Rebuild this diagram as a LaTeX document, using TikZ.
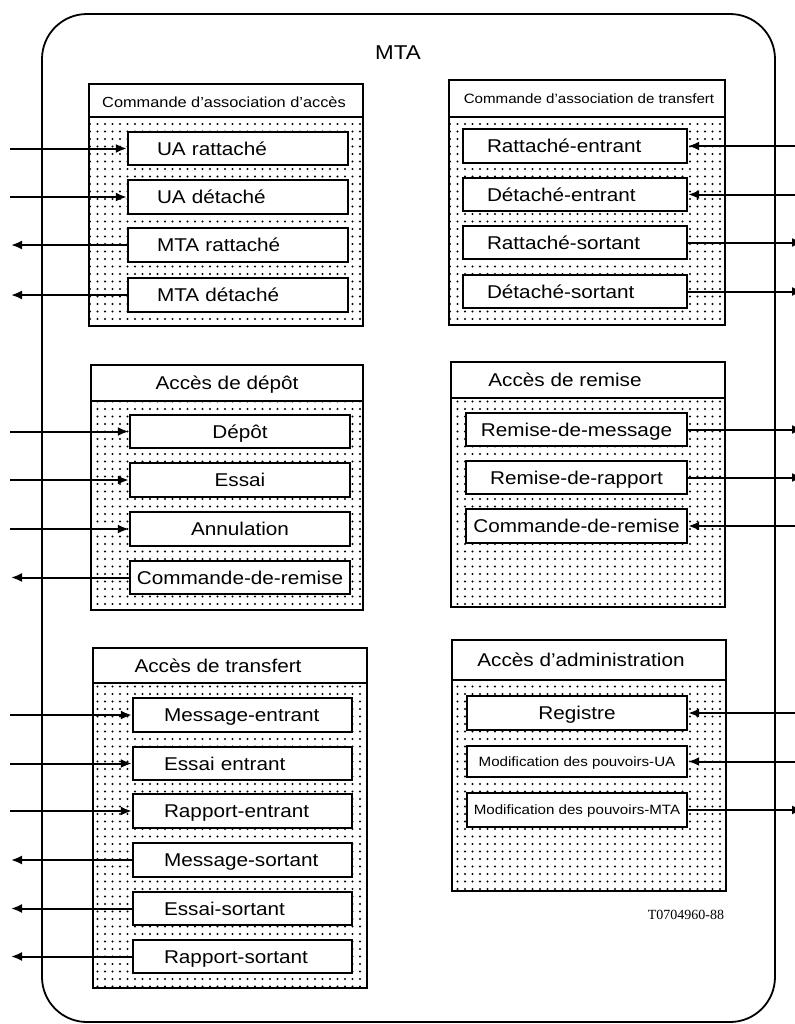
\documentclass[tikz,border=0pt]{standalone}
\usepackage{fontspec}
\setmainfont[FakeStretch=1.12]{Liberation Sans}
\newfontfamily\refserif{Liberation Serif}
\usetikzlibrary{arrows.meta,patterns.meta}

\begin{document}
\begin{tikzpicture}[x=0.5pt,y=-0.5pt,
  frame/.style={line width=0.9pt},
  gbox/.style={line width=1.3pt},
  stipple/.style={pattern={Dots[distance=3.75pt,radius=0.6pt]}},
  ibox/.style={draw,line width=1.2pt,fill=white,minimum height=16.75pt,
    inner ysep=0pt,font=\fontsize{9.25pt}{11pt}\selectfont,
    text height=6.6pt,text depth=0pt},
  smallbox/.style={ibox,font=\fontsize{6.75pt}{8pt}\selectfont,text height=4.8pt},
  titletext/.style={inner sep=0pt,font=\fontsize{9.25pt}{11pt}\selectfont,
    text height=6.6pt,text depth=0pt},
  g1l/.style={ibox,inner xsep=14.5pt,text width=81pt,align=left},
  g1r/.style={ibox,inner xsep=12pt,text width=88pt,align=left},
  g2l/.style={ibox,inner xsep=2pt,minimum width=110pt},
  g2r/.style={ibox,inner xsep=2pt,minimum width=110.5pt},
  g3l/.style={ibox,inner xsep=15.5pt,text width=78.5pt,align=left},
  g3r/.style={ibox,inner xsep=2pt,minimum width=110pt},
  g3rs/.style={smallbox,inner xsep=2pt,minimum width=110pt},
  conn/.style={line width=1pt,-{Latex[length=5.5pt,width=4.5pt]}}
]
\useasboundingbox (0,0) rectangle (795,1024);
\clip (0,0) rectangle (795,1024);

% free ends of the connectors
\coordinate (Lin) at (10,0);
\coordinate (Lout) at (11,0);
\coordinate (Rin) at (800,0);
\coordinate (Rout) at (803,0);

% MTA frame
\draw[frame,rounded corners=22.5pt] (42,14) rectangle (775,1022);
\node[inner sep=0pt,font=\fontsize{10pt}{12pt}\selectfont,text height=7.2pt,text depth=0pt] (mta) at (398,52) {MTA};

% ---------- Commande d'association d'accès ----------
\draw[gbox,stipple] (89,84) rectangle (363,326);
\draw[gbox,fill=white] (89,84) rectangle (363,117);
\node[titletext,font=\fontsize{7.3pt}{9pt}\selectfont,text height=5.2pt] (t1) at (224,102) {Commande d’association d’accès};
\node[g1l] (uar) at (238,148.5) {\mbox{UA rattaché}};
\node[g1l] (uad) at (238,197) {\mbox{UA détaché}};
\node[g1l] (mtar) at (238,245) {\mbox{MTA rattaché}};
\node[g1l] (mtad) at (238,295) {\mbox{MTA détaché}};
\draw[conn] (uar.west -| Lin) -- (uar.west);
\draw[conn] (uad.west -| Lin) -- (uad.west);
\draw[conn] (mtar.west) -- (mtar.west -| Lout);
\draw[conn] (mtad.west) -- (mtad.west -| Lout);

% ---------- Commande d'association de transfert ----------
\draw[gbox,stipple] (449,80) rectangle (725,325);
\draw[gbox,fill=white] (449,80) rectangle (725,117);
\node[titletext,font=\fontsize{6.75pt}{8pt}\selectfont,text height=4.8pt] (t2) at (589,99) {Commande d’association de transfert};
\node[g1r] (rate) at (575,146) {\mbox{Rattaché-entrant}};
\node[g1r] (dete) at (575,194.5) {\mbox{Détaché-entrant}};
\node[g1r] (rats) at (575,242.5) {\mbox{Rattaché-sortant}};
\node[g1r] (dets) at (575,291.5) {\mbox{Détaché-sortant}};
\draw[conn] (rate.east -| Rin) -- (rate.east);
\draw[conn] (dete.east -| Rin) -- (dete.east);
\draw[conn] (rats.east) -- (rats.east -| Rout);
\draw[conn] (dets.east) -- (dets.east -| Rout);

% ---------- Accès de dépôt ----------
\draw[gbox,stipple] (91,365) rectangle (363,610);
\draw[gbox,fill=white] (91,365) rectangle (363,401);
\node[titletext] (t3) at (227,383) {Accès de dépôt};
\node[g2l] (dep) at (240,431.5) {Dépôt};
\node[g2l] (ess) at (240,480) {Essai};
\node[g2l] (ann) at (240,529) {Annulation};
\node[g2l] (cdr1) at (240,577.5) {Commande-de-remise};
\draw[conn] (dep.west -| Lin) -- (dep.west);
\draw[conn] (ess.west -| Lin) -- (ess.west);
\draw[conn] (ann.west -| Lin) -- (ann.west);
\draw[conn] (cdr1.west) -- (cdr1.west -| Lout);

% ---------- Accès de remise ----------
\draw[gbox,stipple] (451,362) rectangle (725,607);
\draw[gbox,fill=white] (451,362) rectangle (725,398);
\node[titletext] (t4) at (565,380) {Accès de remise};
\node[g2r] (rmsg) at (576.5,429.5) {Remise-de-message};
\node[g2r] (rrap) at (576.5,477.5) {Remise-de-rapport};
\node[g2r] (cdr2) at (576.5,526) {Commande-de-remise};
\draw[conn] (rmsg.east) -- (rmsg.east -| Rout);
\draw[conn] (rrap.east) -- (rrap.east -| Rout);
\draw[conn] (cdr2.east -| Rin) -- (cdr2.east);

% ---------- Accès de transfert ----------
\draw[gbox,stipple] (93,648) rectangle (367,988);
\draw[gbox,fill=white] (93,648) rectangle (367,683);
\node[titletext] (t5) at (218,665.5) {Accès de transfert};
\node[g3l] (me) at (242.5,715) {\mbox{Message-entrant}};
\node[g3l] (ee) at (242.5,763.5) {\mbox{Essai entrant}};
\node[g3l] (re) at (242.5,811) {\mbox{Rapport-entrant}};
\node[g3l] (ms) at (242.5,860) {\mbox{Message-sortant}};
\node[g3l] (es) at (242.5,908.5) {\mbox{Essai-sortant}};
\node[g3l] (rs) at (242.5,956.5) {\mbox{Rapport-sortant}};
\draw[conn] (me.west -| Lin) -- (me.west);
\draw[conn] (ee.west -| Lin) -- (ee.west);
\draw[conn] (re.west -| Lin) -- (re.west);
\draw[conn] (ms.west) -- (ms.west -| Lout);
\draw[conn] (es.west) -- (es.west -| Lout);
\draw[conn] (rs.west) -- (rs.west -| Lout);

% ---------- Accès d'administration ----------
\draw[gbox,stipple] (452,640) rectangle (726,891);
\draw[gbox,fill=white] (452,640) rectangle (726,680);
\node[titletext] (t6) at (581,660) {Accès d’administration};
\node[g3r] (reg) at (577,713) {Registre};
\node[g3rs,minimum height=15.75pt] (mpua) at (577,761.5) {Modification des pouvoirs-UA};
\node[g3rs] (mpmta) at (577,810) {Modification des pouvoirs-MTA};
\draw[conn] (reg.east -| Rin) -- (reg.east);
\draw[conn] (mpua.east -| Rin) -- (mpua.east);
\draw[conn] (mpmta.east) -- (mpmta.east -| Rout);

% figure reference
\node[inner sep=0pt,font=\refserif\fontsize{7pt}{8pt}\selectfont] (ref) at (686,915) {T0704960-88};
\end{tikzpicture}
\end{document}
